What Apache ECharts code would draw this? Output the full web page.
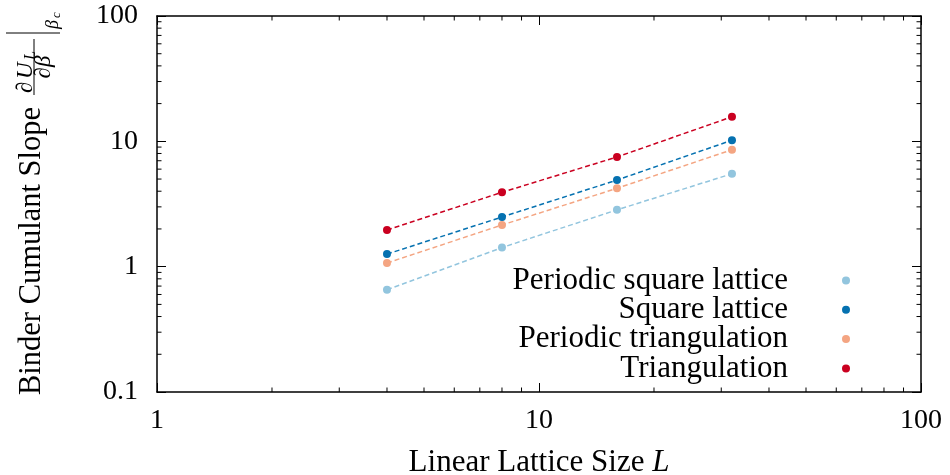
<!DOCTYPE html>
<html><head><meta charset="utf-8">
<script src="https://cdn.jsdelivr.net/npm/echarts@6/dist/echarts.min.js"></script>
<style>html,body{margin:0;padding:0;background:#fff}#c{width:950px;height:475px}</style>
</head><body><div id="c"></div>
<script>
const sizes = [4, 8, 16, 32];
const seriesNames = ['Periodic square lattice', 'Square lattice', 'Periodic triangulation', 'Triangulation'];
const periodicSquare = [0.654, 1.42, 2.84, 5.51];
const square = [1.26, 2.49, 4.91, 10.2];
const periodicTri = [1.07, 2.15, 4.22, 8.57];
const tri = [1.96, 3.92, 7.50, 15.7];
const xMinorTicks = [2, 3, 4, 5, 6, 7, 8, 9, 20, 30, 40, 50, 60, 70, 80, 90];
const yMinorTicks = [0.2, 0.3, 0.4, 0.5, 0.6, 0.7, 0.8, 0.9, 2, 3, 4, 5, 6, 7, 8, 9, 20, 30, 40, 50, 60, 70, 80, 90];
const colors = ['#92c5de', '#0571b0', '#f4a582', '#ca0020'];
const allValues = [periodicSquare, square, periodicTri, tri];

const FONT = 'Liberation Serif';
const chart = echarts.init(document.getElementById('c'), null, {renderer: 'canvas'});

function lineSeries(i) {
  return {
    name: seriesNames[i], type: 'line',
    data: sizes.map((x, k) => [x, allValues[i][k]]),
    symbol: 'circle', symbolSize: 8, showSymbol: true,
    itemStyle: {color: colors[i]},
    lineStyle: {color: colors[i], width: 1.5, type: [5, 3]},
    z: 3
  };
}
const tickStyle = {stroke: '#000', lineWidth: 1};
const series = [0, 1, 2, 3].map(lineSeries);
series.push({
  type: 'custom', silent: true, clip: false, z: 5,
  xAxisIndex: 0, yAxisIndex: 0,
  data: xMinorTicks.map(v => [v, 1]),
  renderItem: function (params, api) {
    const cs = params.coordSys;
    const x = api.coord([api.value(0), 1])[0];
    return {type: 'group', children: [
      {type: 'line', shape: {x1: x, y1: cs.y + cs.height, x2: x, y2: cs.y + cs.height - 4.5}, style: tickStyle},
      {type: 'line', shape: {x1: x, y1: cs.y, x2: x, y2: cs.y + 4.5}, style: tickStyle}
    ]};
  }
});
series.push({
  type: 'custom', silent: true, clip: false, z: 5,
  xAxisIndex: 0, yAxisIndex: 0,
  data: yMinorTicks.map(v => [2, v]),
  renderItem: function (params, api) {
    const cs = params.coordSys;
    const y = api.coord([2, api.value(1)])[1];
    return {type: 'group', children: [
      {type: 'line', shape: {x1: cs.x, y1: y, x2: cs.x + 4.5, y2: y}, style: tickStyle},
      {type: 'line', shape: {x1: cs.x + cs.width, y1: y, x2: cs.x + cs.width - 4.5, y2: y}, style: tickStyle}
    ]};
  }
});

const axisLine = {show: true, onZero: false, lineStyle: {color: '#000', width: 1.5}};
const axisTick = {show: true, inside: true, length: 9, lineStyle: {color: '#000', width: 1}};
const labelStyle = {color: '#000', fontFamily: FONT, fontSize: 28};

function yNameGraphic() {
  const t = (text, x, y, size, italic, align) => ({
    type: 'text', x: x, y: y,
    style: {text: text, font: (italic ? 'italic ' : '') + size + 'px "' + FONT + '"', fill: '#000',
      align: align || 'left', verticalAlign: 'middle', textAlign: align || 'left', textVerticalAlign: 'middle'}
  });
  return {
    type: 'group', x: 0, y: 395, rotation: Math.PI / 2, silent: true,
    children: [
      t('Binder Cumulant Slope', 0, 32, 30.5, false),
      t('\u2202', 302, 26, 23, true),
      t('U', 316, 26, 23, true),
      t('L', 335, 31, 16, true),
      {type: 'line', shape: {x1: 300, y1: 34, x2: 356, y2: 34}, style: {stroke: '#000', lineWidth: 1}},
      t('\u2202\u03B2', 328, 44, 23, true, 'center'),
      {type: 'line', shape: {x1: 362, y1: 6, x2: 362, y2: 60}, style: {stroke: '#000', lineWidth: 1}},
      t('\u03B2', 366, 53, 18, true),
      t('c', 377, 57, 13, true)
    ]
  };
}

chart.setOption({
  animation: false,
  backgroundColor: '#fff',
  grid: {left: 157, right: 29, top: 16, bottom: 83, containLabel: false, outerBoundsMode: 'none'},
  legend: {
    data: seriesNames, orient: 'vertical', align: 'right',
    right: 100, top: 265, padding: 0, itemGap: -1.7,
    itemWidth: 8, itemHeight: 8, icon: 'circle', selectedMode: false,
    textStyle: {color: '#000', fontFamily: FONT, fontSize: 31, lineHeight: 28.6, padding: [0, 49, 0, 0]}
  },
  xAxis: [
    {type: 'log', logBase: 10, min: 1, max: 100, position: 'bottom',
     axisLine: axisLine, axisTick: axisTick, splitLine: {show: false}, minorTick: {show: false},
     axisLabel: Object.assign({margin: 15}, labelStyle),
     name: 'Linear Lattice Size {i|L}', nameLocation: 'middle', nameGap: 55,
     nameTextStyle: {color: '#000', fontFamily: FONT, fontSize: 31,
       rich: {i: {fontStyle: 'italic', fontFamily: FONT, fontSize: 31, color: '#000'}}}},
    {type: 'log', logBase: 10, min: 1, max: 100, position: 'top',
     axisLine: axisLine, axisTick: axisTick, splitLine: {show: false}, axisLabel: {show: false}}
  ],
  yAxis: [
    {type: 'log', logBase: 10, min: 0.1, max: 100, position: 'left',
     axisLine: axisLine, axisTick: axisTick, splitLine: {show: false},
     axisLabel: Object.assign({margin: 19}, labelStyle)},
    {type: 'log', logBase: 10, min: 0.1, max: 100, position: 'right',
     axisLine: axisLine, axisTick: axisTick, splitLine: {show: false}, axisLabel: {show: false}}
  ],
  graphic: [yNameGraphic()],
  series: series
});
</script>
</body></html>
